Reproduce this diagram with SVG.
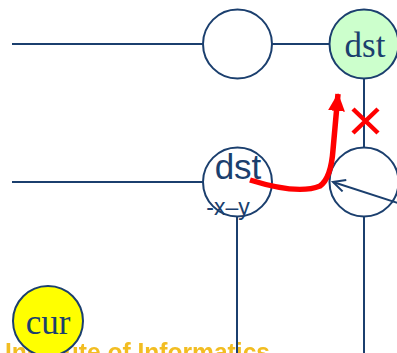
<svg xmlns="http://www.w3.org/2000/svg" width="397" height="353" viewBox="0 0 397 353">
<defs>
<style>
.ln{stroke:#1b3f6e;stroke-width:2;fill:none}
.nd{stroke:#1b3f6e;stroke-width:2}
.serif{font-family:"Liberation Serif",serif;font-size:35px;fill:#1b3f6e;text-anchor:middle}
.sans{font-family:"Liberation Sans",sans-serif;fill:#1b3f6e;text-anchor:middle}
</style>
<marker id="open" markerWidth="16" markerHeight="16" refX="13" refY="7" orient="auto" markerUnits="userSpaceOnUse">
<path d="M1,1 L13,7 L1,13" fill="none" stroke="#1b3f6e" stroke-width="2"/>
</marker>
<marker id="redhead" markerWidth="20" markerHeight="20" refX="17" refY="9" orient="auto" markerUnits="userSpaceOnUse">
<path d="M0,0.5 L18,9 L0,17.5 Z" fill="#ff0000"/>
</marker>
<filter id="blur"><feGaussianBlur stdDeviation="0.6"/></filter>
</defs>
<text x="5" y="361" font-family="Liberation Sans, sans-serif" font-weight="bold" font-size="26" fill="#f2bd20" textLength="265" lengthAdjust="spacingAndGlyphs" filter="url(#blur)">Institute of Informatics</text>
<g id="connectors">
<line class="ln" x1="12" y1="44" x2="203" y2="44"/>
<line class="ln" x1="272" y1="44" x2="330" y2="44"/>
<line class="ln" x1="364" y1="79" x2="364" y2="148"/>
<line class="ln" x1="12" y1="182" x2="203" y2="182"/>
<line class="ln" x1="237" y1="217" x2="237" y2="353"/>
<line class="ln" x1="364" y1="216" x2="364" y2="353"/>
</g>
<g id="n1"><circle class="nd" cx="237.5" cy="44" r="34.5" fill="#ffffff"/></g>
<g id="dst-top"><circle class="nd" cx="364" cy="44" r="34.5" fill="#ccffcc"/><text class="serif" x="365" y="57">dst</text></g>
<g id="dst-mid"><circle class="nd" cx="237.5" cy="182" r="34.5" fill="#ffffff"/><text class="sans" x="238" y="179" font-size="35">dst</text><text class="sans" x="228" y="215" font-size="23">-x–y</text></g>
<g id="n4"><circle class="nd" cx="364" cy="182" r="34.5" fill="#ffffff"/></g>
<g id="cur"><circle class="nd" cx="48" cy="321" r="35" fill="#ffff00"/><text class="serif" x="48" y="334" font-size="36">cur</text></g>
<g id="arrows">
<line class="ln" x1="398" y1="203" x2="333" y2="182" marker-end="url(#open)"/>
<path d="M250,180 Q298,195 320,186 Q331,178 333,150 L338,94" fill="none" stroke="#ff0000" stroke-width="5.5" marker-end="url(#redhead)"/>
<path d="M353,109 L378,133 M378,109 L353,133" stroke="#ff0000" stroke-width="4.5"/>
</g>
</svg>
